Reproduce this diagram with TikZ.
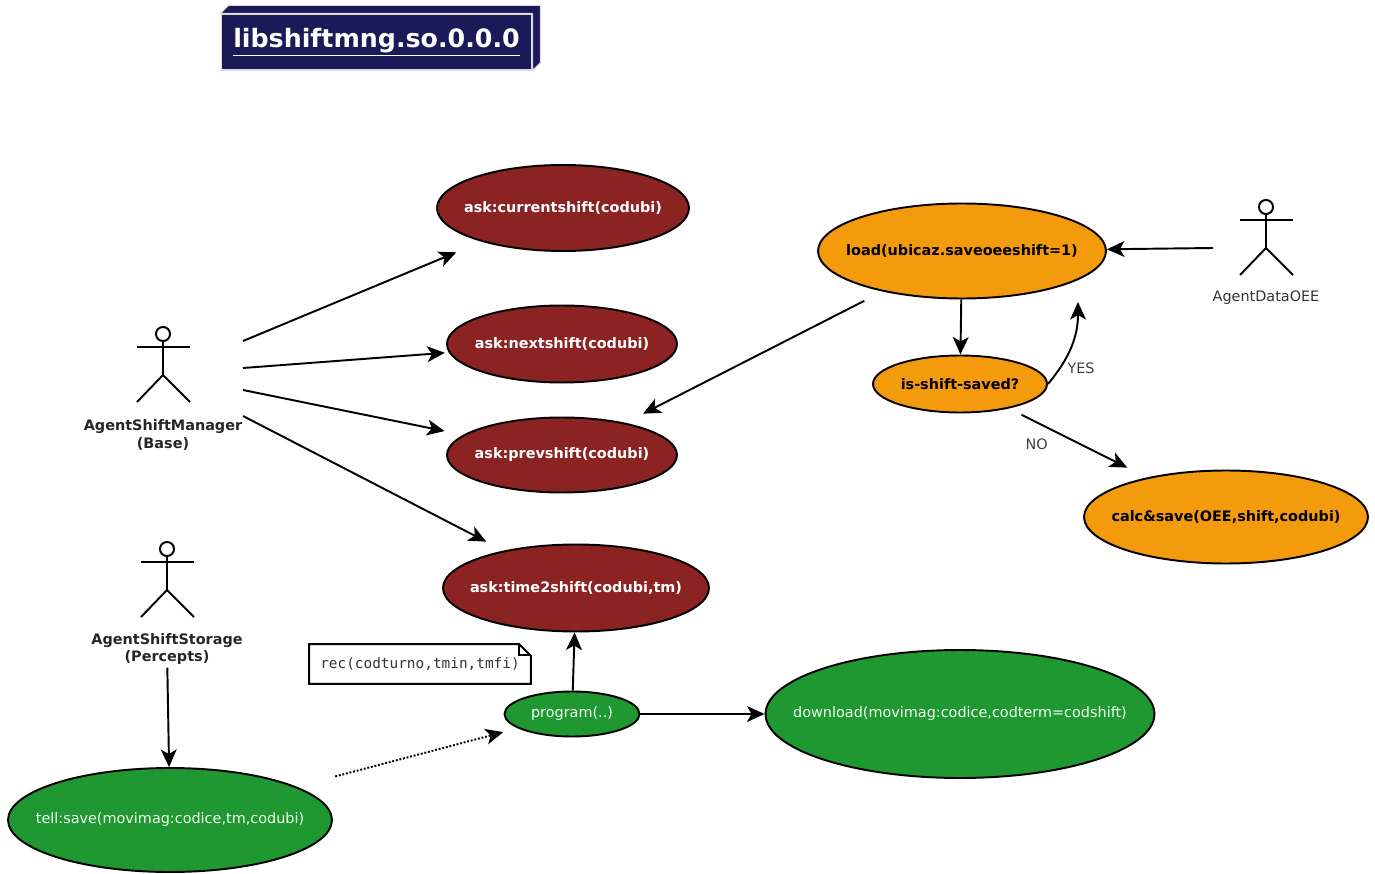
\documentclass[tikz,border=0pt]{standalone}
\usepackage{fontspec}
\setmainfont{DejaVu Sans}
\setmonofont{DejaVu Sans Mono}
\usetikzlibrary{shapes,arrows.meta,calc}
\definecolor{askred}{RGB}{139,35,35}
\definecolor{oeeorange}{RGB}{243,155,12}
\definecolor{dlgreen}{RGB}{31,152,50}
\definecolor{libnavy}{RGB}{26,26,88}
\tikzset{
    -{Stealth[length=10pt,width=9pt,inset=2.6pt]},auto,
    usecase/.style ={ellipse, draw, inner sep=0pt, font=\fontsize{8.2}{10}\selectfont\bfseries,
        execute at begin node={\hbox to 0pt\bgroup\hss}, execute at end node={\hss\egroup}},
    ask/.style = {usecase, fill=askred, text=white},
    oee/.style = {usecase, fill=oeeorange, text=black},
    store/.style = {usecase, fill=dlgreen, text=green!6!white, font=\fontsize{8.2}{10}\selectfont},
    actorname/.style = {align=center, inner sep=1pt, font=\fontsize{8.2}{10.2}\selectfont\bfseries, text=black!85},
    el/.style = {inner sep=1pt, font=\fontsize{8.2}{10}\selectfont, text=black!75},
    libbox/.style = {fill=libnavy, draw=black!15, line width=0.6pt, text=white, minimum width=6.22cm,
        minimum height=1.12cm, font=\fontsize{14.4}{16}\selectfont\bfseries},
    recnote/.style = {minimum width=4.4cm, minimum height=0.76cm, inner sep=0pt,
        font=\fontsize{8.2}{10}\selectfont\ttfamily, text=black!80}
}
\newcommand{\stickman}[1]{%
  \begin{scope}[shift={#1},-]
    \draw (0,0) circle[radius=4pt];
    \draw (-26,13) -- (27,13);
    \draw (0,7) -- (0,41);
    \draw (-26,68) -- (0,41) -- (27,68);
  \end{scope}}

\begin{document}
\begin{tikzpicture}[x=0.02cm,y=-0.02cm,line width=1.1pt]
	\useasboundingbox (0,0) rectangle (1375,874);
	% library box
	\node[libbox] (lib) at (376.5,42) {\underline{libshiftmng.so.0.0.0}};
	\filldraw[-,fill=libnavy,draw=black!15,line width=0.6pt] (lib.north west) -- ++(8,-8)
		-- ($(lib.north east)+(8,-8)$) -- ($(lib.south east)+(8,-8)$) -- (lib.south east)
		-- (lib.north east) -- cycle;

	% actors
	\stickman{(163,334)}
	\stickman{(167,549)}
	\stickman{(1266,207)}
	\node[actorname] (mgr) at (163,435) {AgentShiftManager\\(Base)};
	\node[actorname] (sto) at (167,649) {AgentShiftStorage\\(Percepts)};
	\node[el, text=black!80] (oeeName) at (1266,298) {AgentDataOEE};
	\coordinate (mgrA) at (243,341);
	\coordinate (mgrB) at (243,368);
	\coordinate (mgrC) at (243,390);
	\coordinate (mgrD) at (243,416);
	\coordinate (oeeHand) at (1213,248);

	% use cases
	\node[ask, minimum width=5.04cm, minimum height=1.72cm] (cur) at (563,208) {ask:currentshift(codubi)};
	\node[ask, minimum width=4.6cm, minimum height=1.54cm] (next) at (562,344) {ask:nextshift(codubi)};
	\node[ask, minimum width=4.6cm, minimum height=1.5cm] (prev) at (562,455) {ask:prevshift(codubi)};
	\node[ask, minimum width=5.32cm, minimum height=1.74cm] (t2s) at (576,588) {ask:time2shift(codubi,tm)};
	\node[oee, minimum width=5.76cm, minimum height=1.9cm] (load) at (962,251) {load(ubicaz.saveoeeshift=1)};
	\node[oee, minimum width=3.48cm, minimum height=1.14cm] (saved) at (960,384) {is-shift-saved?};
	\node[oee, minimum width=5.68cm, minimum height=1.86cm] (calc) at (1226,517) {calc\&save(OEE,shift,codubi)};
	\node[store, minimum width=2.7cm, minimum height=0.9cm] (prog) at (572,714) {program(..)};
	\node[store, minimum width=7.78cm, minimum height=2.56cm] (down) at (960,714) {download(movimag:codice,codterm=codshift)};
	\node[store, minimum width=6.48cm, minimum height=2.08cm] (tell) at (170,820) {tell:save(movimag:codice,tm,codubi)};

	% note
	\node[recnote] (rec) at (420,664) {rec(codturno,tmin,tmfi)};
	\draw[-] (rec.south west) -- (rec.north west) -- ($(rec.north east)+(-12,0)$)
		-- ($(rec.north east)+(0,12)$) -- (rec.south east) -- cycle;
	\draw[-] ($(rec.north east)+(-12,0)$) -- ++(0,11) -- ++(12,0);
	\coordinate (yesTip) at (1078,302);

	\path (mgrA) edge[shorten >=0.55cm] (cur);
	\path (mgrB) edge[shorten >=0.08cm] (next);
	\path (mgrC) edge[shorten >=0.38cm] (prev);
	\path (mgrD) edge[shorten >=0.39cm] (t2s);
	\path (oeeHand) edge (load);
	\path (load) edge[shorten <=0.41cm, shorten >=0.4cm] (prev);
	\path (load) edge (saved);
	\path (saved.east) edge[out=50,in=-90] node[el,pos=0.2,right=3pt] {YES} (yesTip);
	\path (saved) edge[shorten <=0.28cm, shorten >=0.44cm] node[el,pos=0.2,below=8pt] {NO} (calc);
	\path (sto) edge (tell);
	\path (tell) edge[densely dotted, shorten <=0.8cm, shorten >=0.3cm] (prog);
	\path (prog) edge (t2s);
	\path (prog) edge (down);
\end{tikzpicture}
\end{document}
